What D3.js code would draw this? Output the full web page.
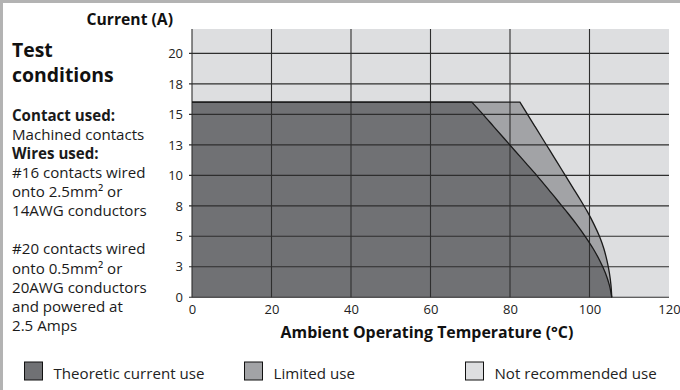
<!DOCTYPE html>
<html>
<head>
<meta charset="utf-8">
<script src="https://cdn.jsdelivr.net/npm/d3@7"></script>
<style>
  html, body { margin: 0; padding: 0; background: #fff; }
  svg { display: block; font-family: "Open Sans", "Noto Sans", sans-serif; }
</style>
</head>
<body>
<svg id="chart" width="680" height="390"></svg>
<script>
// ---- data ----
const tempTicks = [0, 20, 40, 60, 80, 100, 120];
const currentTicks = [0, 2.5, 5, 7.5, 10, 12.5, 15, 17.5, 20];
const currentTickLabels = ["0", "3", "5", "8", "10", "13", "15", "18", "20"];
const plateauCurrent = 16;
const theoreticT = [70.4, 73.2, 75.9, 78.6, 81.3, 84.0, 86.7, 89.3, 91.8, 94.3, 96.7, 98.9, 100.9, 102.6, 104.0, 105.0, 105.6];
const theoreticI = [16, 15, 14, 13, 12, 11, 10, 9, 8, 7, 6, 5, 4, 3, 2, 1, 0];
const limitedT = [82.5, 84.4, 86.3, 88.2, 90.1, 92.0, 93.9, 95.8, 97.7, 99.5, 101.1, 102.5, 103.6, 104.4, 105.0, 105.4, 105.6];
const limitedI = [16, 15, 14, 13, 12, 11, 10, 9, 8, 7, 6, 5, 4, 3, 2, 1, 0];
const legendLabels = ["Theoretic current use", "Limited use", "Not recommended use"];
const sideTitle = ["Test", "conditions"];
const sideLines = [
  {t: "Contact used:", b: true},
  {t: "Machined contacts", b: false},
  {t: "Wires used:", b: true},
  {t: "#16 contacts wired", b: false},
  {t: "onto 2.5mm² or", b: false},
  {t: "14AWG conductors", b: false},
  {t: "", b: false},
  {t: "#20 contacts wired", b: false},
  {t: "onto 0.5mm² or", b: false},
  {t: "20AWG conductors", b: false},
  {t: "and powered at", b: false},
  {t: "2.5 Amps", b: false}
];

// ---- setup ----
const svg = d3.select("#chart");
const plot = {left: 192, right: 669, top: 29, bottom: 297.3};
const x = d3.scaleLinear().domain([0, 120]).range([plot.left, plot.right]);
const y = d3.scaleLinear().domain([0, 22]).range([plot.bottom, plot.top]);

const colDark = "#707174", colMid = "#a2a3a6", colLight = "#dddee0";

// frame bars
svg.append("rect").attr("x", 0).attr("y", 0).attr("width", 680).attr("height", 3).attr("fill", "#b3b3b3");
svg.append("rect").attr("x", 0).attr("y", 0).attr("width", 3).attr("height", 390).attr("fill", "#b3b3b3");

// plot background
svg.append("rect").attr("x", plot.left).attr("y", plot.top)
  .attr("width", plot.right - plot.left).attr("height", plot.bottom - plot.top)
  .attr("fill", colLight);

const lin = d3.line().x(d => x(d[0])).y(d => y(d[1]));
const crv = d3.line().x(d => x(d[0])).y(d => y(d[1])).curve(d3.curveCatmullRom.alpha(0.5));
function regionPath(Ts, Is) {
  const head = lin([[0, 0], [0, plateauCurrent], [Ts[0], Is[0]]]);
  const tail = crv(Ts.map((t, i) => [t, Is[i]])).replace(/^M/, "L");
  return head + tail + "Z";
}
function edgePath(Ts, Is) {
  return lin([[0, plateauCurrent], [Ts[0], Is[0]]]) + crv(Ts.map((t, i) => [t, Is[i]])).replace(/^M/, "L");
}

svg.append("path").attr("d", regionPath(limitedT, limitedI)).attr("fill", colMid);
svg.append("path").attr("d", regionPath(theoreticT, theoreticI)).attr("fill", colDark);

// grid
const grid = svg.append("g").attr("stroke", "#2e2e2e").attr("stroke-width", 1.1);
currentTicks.forEach(v => {
  grid.append("line").attr("x1", plot.left - 3).attr("x2", plot.right)
    .attr("y1", y(v)).attr("y2", y(v));
});
tempTicks.slice(0, -1).forEach(v => {
  grid.append("line").attr("x1", x(v)).attr("x2", x(v))
    .attr("y1", plot.top).attr("y2", plot.bottom);
});

// curve outlines
svg.append("path").attr("d", edgePath(limitedT, limitedI)).attr("fill", "none").attr("stroke", "#1a1a1a").attr("stroke-width", 1.3);
svg.append("path").attr("d", edgePath(theoreticT, theoreticI)).attr("fill", "none").attr("stroke", "#1a1a1a").attr("stroke-width", 1.3);

// axes labels
const yAxis = d3.axisLeft(y).tickValues(currentTicks).tickSize(0).tickPadding(9)
  .tickFormat((d, i) => currentTickLabels[i]);
const gy = svg.append("g").attr("transform", `translate(${plot.left},0)`).call(yAxis);
gy.select(".domain").remove();
gy.selectAll("text").attr("font-size", 13).attr("fill", "#222").attr("font-family", "'Open Sans', sans-serif");

const xAxis = d3.axisBottom(x).tickValues(tempTicks).tickSize(0).tickPadding(7);
const gx = svg.append("g").attr("transform", `translate(0,${plot.bottom})`).call(xAxis);
gx.select(".domain").remove();
gx.selectAll("text").attr("font-size", 13).attr("fill", "#222").attr("font-family", "'Open Sans', sans-serif");

svg.append("text").attr("x", 173).attr("y", 25).attr("text-anchor", "end")
  .attr("font-size", 15.7).attr("font-weight", "bold").attr("fill", "#111").text("Current (A)");
svg.append("text").attr("x", 427).attr("y", 338).attr("text-anchor", "middle")
  .attr("font-size", 15.9).attr("font-weight", "bold").attr("fill", "#111").text("Ambient Operating Temperature (°C)");

// side panel
sideTitle.forEach((t, i) => {
  svg.append("text").attr("x", 12).attr("y", 56.7 + i * 25).attr("font-size", 19.4)
    .attr("font-weight", "bold").attr("fill", "#111").text(t);
});
sideLines.forEach((l, i) => {
  if (!l.t) return;
  svg.append("text").attr("x", 12).attr("y", 120.7 + i * 19.1).attr("font-size", 15.1)
    .attr("font-weight", l.b ? "bold" : "normal").attr("fill", "#1a1a1a").text(l.t);
});

// legend
const legX = [24.5, 244.5, 465.5];
const legColors = [colDark, colMid, colLight];
legendLabels.forEach((lab, i) => {
  svg.append("rect").attr("x", legX[i]).attr("y", 362).attr("width", 18).attr("height", 18)
    .attr("fill", legColors[i]).attr("stroke", "#111").attr("stroke-width", 1);
  svg.append("text").attr("x", legX[i] + 29).attr("y", 378.5).attr("font-size", 15.1)
    .attr("fill", "#222").text(lab);
});
</script>
</body>
</html>
